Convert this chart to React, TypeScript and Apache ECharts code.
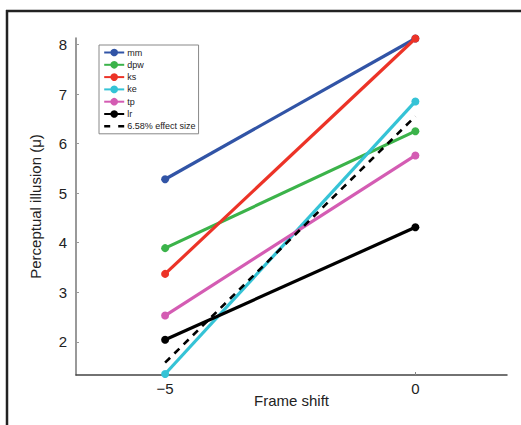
import React, { useEffect, useRef } from "react";
import * as echarts from "echarts";

const frameShift = [-5, 0];
const seriesNames = ["mm", "dpw", "ks", "ke", "tp", "lr"];
const mm = [5.28, 8.12];
const dpw = [3.89, 6.25];
const ks = [3.37, 8.12];
const ke = [1.35, 6.85];
const tp = [2.53, 5.76];
const lr = [2.04, 4.31];
const effectName = "6.58% effect size";
const effect = [1.58, 6.55];
const xTicks = [-5, 0];
const yTicks = [2, 3, 4, 5, 6, 7, 8];

const colors = ["#3154a6", "#3bb34a", "#ec3327", "#35c3d6", "#d45cb3", "#000000"];
const values = [mm, dpw, ks, ke, tp, lr];

export default function App() {
  const ref = useRef<HTMLDivElement>(null);
  useEffect(() => {
    if (!ref.current) return;
    const chart = echarts.init(ref.current, null, { renderer: "svg" });
    const font = "'Liberation Sans', Arial, Helvetica, sans-serif";
    const lineSeries: any[] = values.map((vals, i) => ({
      name: seriesNames[i],
      type: "line",
      data: frameShift.map((x, j) => [x, vals[j]]),
      symbol: "circle",
      symbolSize: 8,
      itemStyle: { color: colors[i] },
      lineStyle: { color: colors[i], width: 3.2 },
      z: 3 + i,
    }));
    lineSeries.push({
      name: effectName,
      type: "line",
      data: frameShift.map((x, j) => [x, effect[j]]),
      symbol: "none",
      itemStyle: { color: "#000" },
      lineStyle: { color: "#000", width: 2.6, type: [7, 6] },
      z: 10,
    });
    chart.setOption({
      animation: false,
      backgroundColor: "#fff",
      textStyle: { fontFamily: font },
      grid: { left: 76, right: 14, top: 38, bottom: 50 },
      legend: {
        orient: "vertical",
        left: 99,
        top: 45,
        padding: [3, 3, 3, 4],
        itemGap: 3.3,
        itemWidth: 20,
        itemHeight: 9.5,
        backgroundColor: "#fff",
        borderColor: "#888",
        borderWidth: 1,
        borderRadius: 0,
        textStyle: { fontSize: 9, color: "#222", fontFamily: font, padding: [0, 0, 0, -2] },
        data: [
          ...seriesNames,
          { name: effectName, itemStyle: { opacity: 0 }, lineStyle: { type: [6, 8], width: 2.4, color: "#000" } },
        ],
        z: 20,
      },
      xAxis: {
        type: "value",
        min: -6.78,
        max: 1.83,
        name: "Frame shift",
        nameLocation: "middle",
        nameGap: 18,
        nameMoveOverlap: false,
        nameTextStyle: { fontSize: 15, color: "#222", fontFamily: font },
        axisLine: { show: true, onZero: false, lineStyle: { color: "#444", width: 1.5 } },
        axisTick: { show: true, inside: true, length: 3, customValues: xTicks, lineStyle: { color: "#888" } },
        axisLabel: {
          customValues: xTicks,
          fontSize: 15,
          color: "#222",
          margin: 6,
          formatter: (v: number) => String(v).replace("-", "\u2212"),
        },
        splitLine: { show: false },
      },
      yAxis: {
        type: "value",
        min: 1.33,
        max: 8.13,
        name: "Perceptual illusion (\u03bc)",
        nameLocation: "middle",
        nameGap: 33,
        nameMoveOverlap: false,
        nameTextStyle: { fontSize: 15, color: "#222", fontFamily: font },
        axisLine: { show: true, onZero: false, lineStyle: { color: "#777", width: 1.5 } },
        axisTick: { show: true, inside: true, length: 3, customValues: yTicks, lineStyle: { color: "#999" } },
        axisLabel: { customValues: yTicks, fontSize: 15, color: "#222", margin: 9 },
        splitLine: { show: false },
      },
      graphic: [
        { type: "line", shape: { x1: 6, y1: 11, x2: 521, y2: 11 }, style: { stroke: "#222", lineWidth: 2.5 } },
        { type: "line", shape: { x1: 7, y1: 10, x2: 7, y2: 425 }, style: { stroke: "#222", lineWidth: 2.5 } },
      ],
      series: lineSeries,
    });
    return () => chart.dispose();
  }, []);
  return <div ref={ref} style={{ width: 521, height: 425, position: "absolute", left: 0, top: 0 }} />;
}
